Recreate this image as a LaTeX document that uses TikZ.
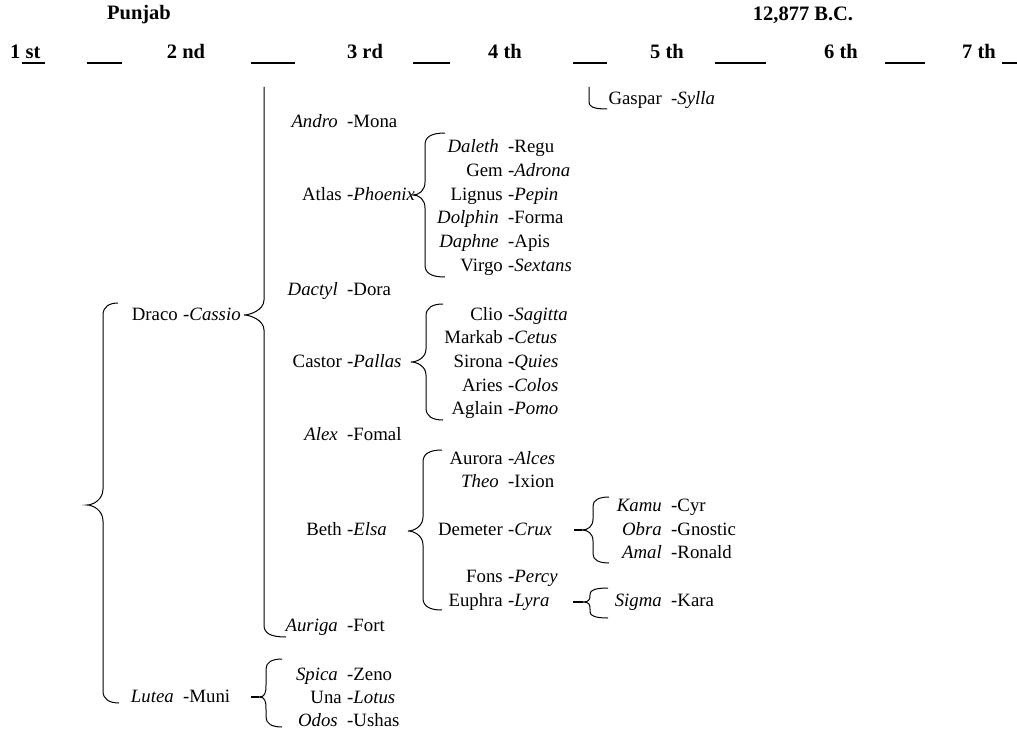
\documentclass[tikz,border=0pt]{standalone}
\usepackage{fontspec}
\setmainfont{Liberation Serif}
\begin{document}
\begin{tikzpicture}[x=1pt,y=-1pt,
  lbl/.style={inner sep=0pt,font=\fontsize{18.8}{22}\selectfont},
  hdr/.style={inner sep=0pt,font=\fontsize{20.5}{24}\selectfont\bfseries},
  br/.style={line width=1pt,black},
  stub/.style={line width=1.4pt,black},
  uline/.style={line width=1.6pt,black}]
\useasboundingbox (0,0) rectangle (1017,733);
% entry macros: roman first word / italic first word
\newcommand\pr[5]{%
  \node[lbl,anchor=base east] (#1a) at (#2-5,#3+5) {#4};
  \node[lbl,anchor=base west] (#1b) at (#2,#3+5) {-\textit{#5}};}
\newcommand\pri[5]{%
  \node[lbl,anchor=base east] (#1a) at (#2-9,#3+5) {\textit{#4}};
  \node[lbl,anchor=base west] (#1b) at (#2,#3+5) {-#5};}
% brace: xv, xe_top, yt, xt, ym, xe_bot, yb, h, c
\newcommand\mybrace[9]{%
  \draw[br] (#2,#3) .. controls (#1+6,#3) and (#1,#3+#9/3) .. (#1,#3+#9)
    -- (#1,#5-#8) .. controls (#1,#5-#8/3) and (#4+6,#5) .. (#4,#5)
    .. controls (#4+6,#5) and (#1,#5+#8/3) .. (#1,#5+#8)
    -- (#1,#7-#9) .. controls (#1,#7-#9/3) and (#1+6,#7) .. (#6,#7);}
% titles
\node[hdr] (punjab) at (139,15) {Punjab};
\node[hdr] (year) at (803,15) {12,877 B.C.};
% header row
\node[hdr,anchor=base west] (h1) at (10,59) {1 st};
\node[hdr,anchor=base] (h2) at (186,59) {2 nd};
\node[hdr,anchor=base] (h3) at (365,59) {3 rd};
\node[hdr,anchor=base] (h4) at (505,59) {4 th};
\node[hdr,anchor=base] (h5) at (667,59) {5 th};
\node[hdr,anchor=base] (h6) at (841,59) {6 th};
\node[hdr,anchor=base] (h7) at (979,59) {7 th};
\foreach \a/\b in {22/45,87/122,251/295,413/450,573/607,715/766,885/925,1002/1017}
  \draw[uline] (\a,63) -- (\b,63);
% column 2
\pr{draco}{183}{315}{Draco}{Cassio}
\pri{lutea}{183}{697}{Lutea}{Muni}
% column 3
\pri{andro}{347}{123}{Andro}{Mona}
\pr{atlas}{347}{195}{Atlas}{Phoenix}
\pri{dactyl}{347}{290}{Dactyl}{Dora}
\pr{castor}{347}{362}{Castor}{Pallas}
\pri{alex}{347}{435}{Alex}{Fomal}
\pr{beth}{347}{530}{Beth}{Elsa}
\pri{auriga}{347}{626}{Auriga}{Fort}
\pri{spica}{347}{675}{Spica}{Zeno}
\pr{una}{347}{698}{Una}{Lotus}
\pri{odos}{347}{721}{Odos}{Ushas}
% column 4
\pri{daleth}{508}{148}{Daleth}{Regu}
\pr{gem}{508}{171}{Gem}{Adrona}
\pr{lignus}{508}{195}{Lignus}{Pepin}
\pri{dolphin}{508}{218}{Dolphin}{Forma}
\pri{daphne}{508}{242}{Daphne}{Apis}
\pr{virgo}{508}{266}{Virgo}{Sextans}
\pr{clio}{508}{315}{Clio}{Sagitta}
\pr{markab}{508}{338}{Markab}{Cetus}
\pr{sirona}{508}{362}{Sirona}{Quies}
\pr{aries}{508}{386}{Aries}{Colos}
\pr{aglain}{508}{409}{Aglain}{Pomo}
\pr{aurora}{508}{459}{Aurora}{Alces}
\pri{theo}{508}{482}{Theo}{Ixion}
\pr{demeter}{508}{530}{Demeter}{Crux}
\pr{fons}{508}{577}{Fons}{Percy}
\pr{euphra}{508}{601}{Euphra}{Lyra}
% column 5
\node[lbl,anchor=base east] (gaspara) at (671-9,105) {Gaspar};
\node[lbl,anchor=base west] (gasparb) at (671,105) {-\textit{Sylla}};
\pri{kamu}{671}{506}{Kamu}{Cyr}
\pri{obra}{671}{530}{Obra}{Gnostic}
\pri{amal}{671}{553}{Amal}{Ronald}
\pri{sigma}{671}{601}{Sigma}{Kara}
% braces
\mybrace{103}{118}{303}{87}{505}{119}{703}{16}{12}
\draw[br] (264,87) -- (264,300) .. controls (264,310) and (250,315) .. (244,315)
  .. controls (250,315) and (264,320) .. (264,330) -- (264,625)
  .. controls (264,633) and (270,637) .. (286,637);
\draw[br] (589,87) -- (589,102) .. controls (589,106) and (592,109) .. (607,109);
\mybrace{425}{445}{133}{413}{195}{445}{277}{13}{12}
\mybrace{426}{443}{304}{411}{362}{443}{420}{13}{12}
\mybrace{423}{442}{450}{408}{531}{442}{610}{14}{12}
\draw[stub] (574,530) -- (582,530);
\mybrace{593}{609}{497}{582}{530}{609}{563}{11}{9}
\draw[stub] (573,602) -- (583,602);
\mybrace{590}{608}{588}{583}{602}{608}{618}{7}{6}
\draw[stub] (251,697) -- (259,697);
\mybrace{266}{282}{659}{259}{697}{282}{727}{12}{10}
\end{tikzpicture}
\end{document}
